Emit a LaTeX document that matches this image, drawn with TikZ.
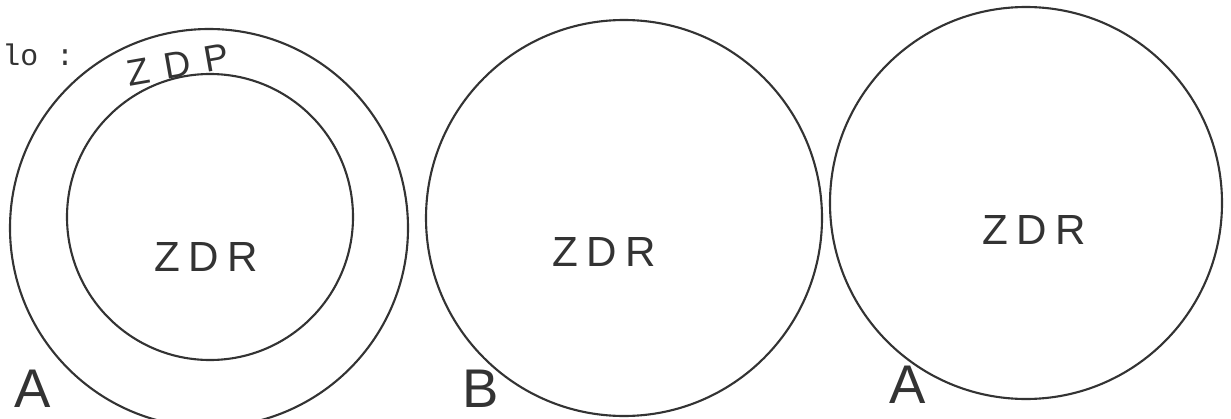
\documentclass[tikz,border=0pt]{standalone}
\usepackage{fontspec}
\setmainfont{Liberation Sans}
\newfontfamily\handfont[LetterSpace=20]{Liberation Sans}
\newfontfamily\typefont{Liberation Mono}
\usetikzlibrary{positioning}
\definecolor{pencil}{HTML}{333333}

\begin{document}
\begin{tikzpicture}[
      x=0.02cm, y=-0.02cm,
      ring/.style={draw=pencil, line width=1.2pt},
      zone/.style={font=\handfont\fontsize{24}{24}\selectfont, text=pencil, inner sep=0pt},
      pole/.style={font=\fontsize{31}{31}\selectfont, text=pencil, inner sep=0pt}
    ]
      \useasboundingbox (0,0) rectangle (1231,419);
      \coordinate (outerA) at (209,228);
      \coordinate (innerA) at (210,217);
      \coordinate (discB) at (624,218);
      \coordinate (discC) at (1026,203);
      \draw[ring] (outerA) circle[radius=199];
      \draw[ring] (innerA) circle[radius=143];
      \draw[ring] (discB) circle[radius=198];
      \draw[ring] (discC) circle[radius=196];
      \node[font=\typefont\fontsize{17}{17}\selectfont, text=pencil, anchor=west, inner sep=0pt] (caption) at (2,55) {lo :};
      \node[zone, rotate=10, font=\handfont\addfontfeature{LetterSpace=40}\fontsize{21}{21}\selectfont] (zdp) at (178,65) {ZDP};
      \node[zone] (zdrA) at (206,257) {ZDR};
      \node[zone] (zdrB) at (604,252) {ZDR};
      \node[zone] (zdrC) at (1034,230) {ZDR};
      \node[pole] (poleA) at (33,389) {A};
      \node[pole] (poleB) at (481,389) {B};
      \node[pole] (poleC) at (908,385) {A};
    \end{tikzpicture}
\end{document}
